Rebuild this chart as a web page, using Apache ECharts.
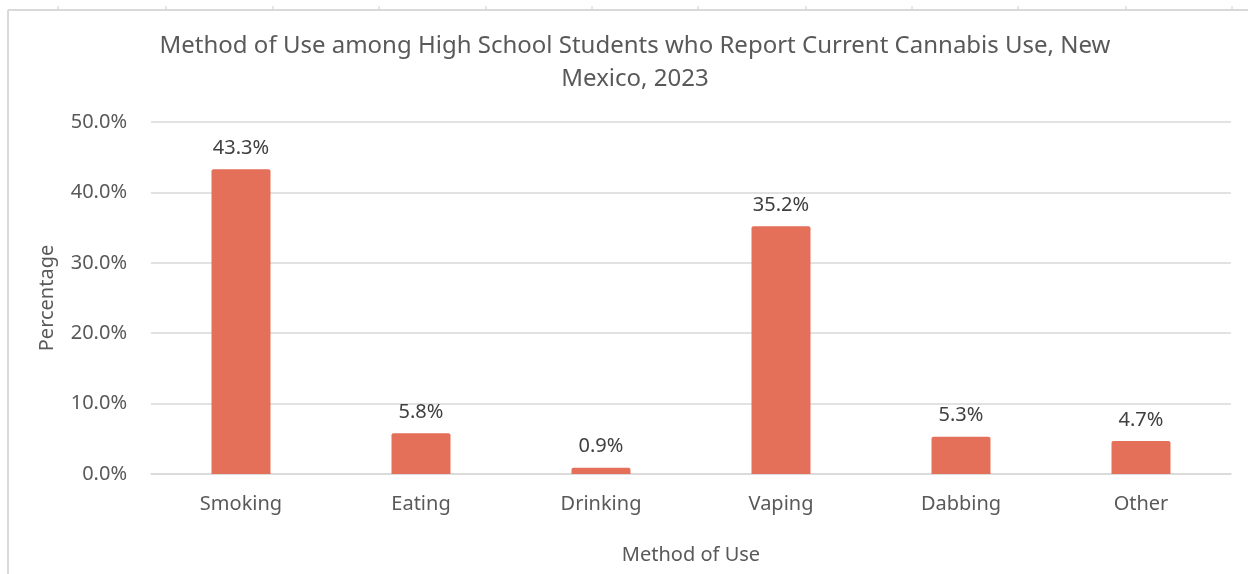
<!DOCTYPE html>
<html>
<head>
<meta charset="utf-8">
<script src="https://cdn.jsdelivr.net/npm/echarts@6/dist/echarts.min.js"></script>
<style>html,body{margin:0;padding:0;background:#fff}#c{width:1248px;height:574px}</style>
</head>
<body>
<div id="c"></div>
<script>
const categories = ['Smoking', 'Eating', 'Drinking', 'Vaping', 'Dabbing', 'Other'];
const values = [43.3, 5.8, 0.9, 35.2, 5.3, 4.7];
const titleText = 'Method of Use among High School Students who Report Current Cannabis Use, New\nMexico, 2023';

const chart = echarts.init(document.getElementById('c'), null, {renderer: 'canvas'});
const font = '"Noto Sans", "Open Sans", sans-serif';
const tickXs = [58, 166, 273, 379, 486, 592, 698, 806, 912, 1018, 1126, 1232];
const graphics = [
  {type: 'line', shape: {x1: 8, y1: 10, x2: 1248, y2: 10}, style: {stroke: '#d9d9d9', lineWidth: 2}, silent: true},
  {type: 'line', shape: {x1: 8, y1: 10, x2: 8, y2: 574}, style: {stroke: '#d9d9d9', lineWidth: 2}, silent: true}
];
tickXs.forEach(x => graphics.push({type: 'line', shape: {x1: x, y1: 6, x2: x, y2: 10}, style: {stroke: '#d0d0d0', lineWidth: 1}, silent: true}));

chart.setOption({
  backgroundColor: '#fff',
  animation: false,
  textStyle: {fontFamily: font},
  title: {
    text: titleText,
    left: 630, top: 25, textAlign: 'center',
    textStyle: {fontFamily: font, fontSize: 24, fontWeight: 'normal', color: '#595959', lineHeight: 33}
  },
  graphic: graphics,
  grid: {left: 151, right: 17, top: 122, bottom: 100, containLabel: false},
  xAxis: {
    type: 'category',
    data: categories,
    name: 'Method of Use',
    nameLocation: 'middle',
    nameGap: 71,
    nameTextStyle: {fontFamily: font, fontSize: 20, color: '#595959'},
    axisLine: {show: true, lineStyle: {color: '#d9d9d9', width: 1.5}},
    axisTick: {show: false},
    axisLabel: {fontFamily: font, fontSize: 20, color: '#595959', margin: 20}
  },
  yAxis: {
    type: 'value',
    min: 0, max: 50, interval: 10,
    name: 'Percentage',
    nameLocation: 'middle',
    nameGap: 94,
    nameRotate: 90,
    nameTextStyle: {fontFamily: font, fontSize: 20, color: '#595959'},
    axisLine: {show: false},
    axisTick: {show: false},
    axisLabel: {fontFamily: font, fontSize: 20, color: '#595959', margin: 24, formatter: v => v.toFixed(1) + '%'},
    splitLine: {lineStyle: {color: '#d9d9d9', width: 1.5}}
  },
  series: [{
    type: 'bar',
    data: values,
    barWidth: 59,
    itemStyle: {color: '#E4705A', borderRadius: [2, 2, 0, 0]},
    label: {
      show: true, position: 'top', distance: 11,
      fontFamily: font, fontSize: 20, color: '#404040',
      formatter: p => p.value.toFixed(1) + '%'
    }
  }]
});
</script>
</body>
</html>
